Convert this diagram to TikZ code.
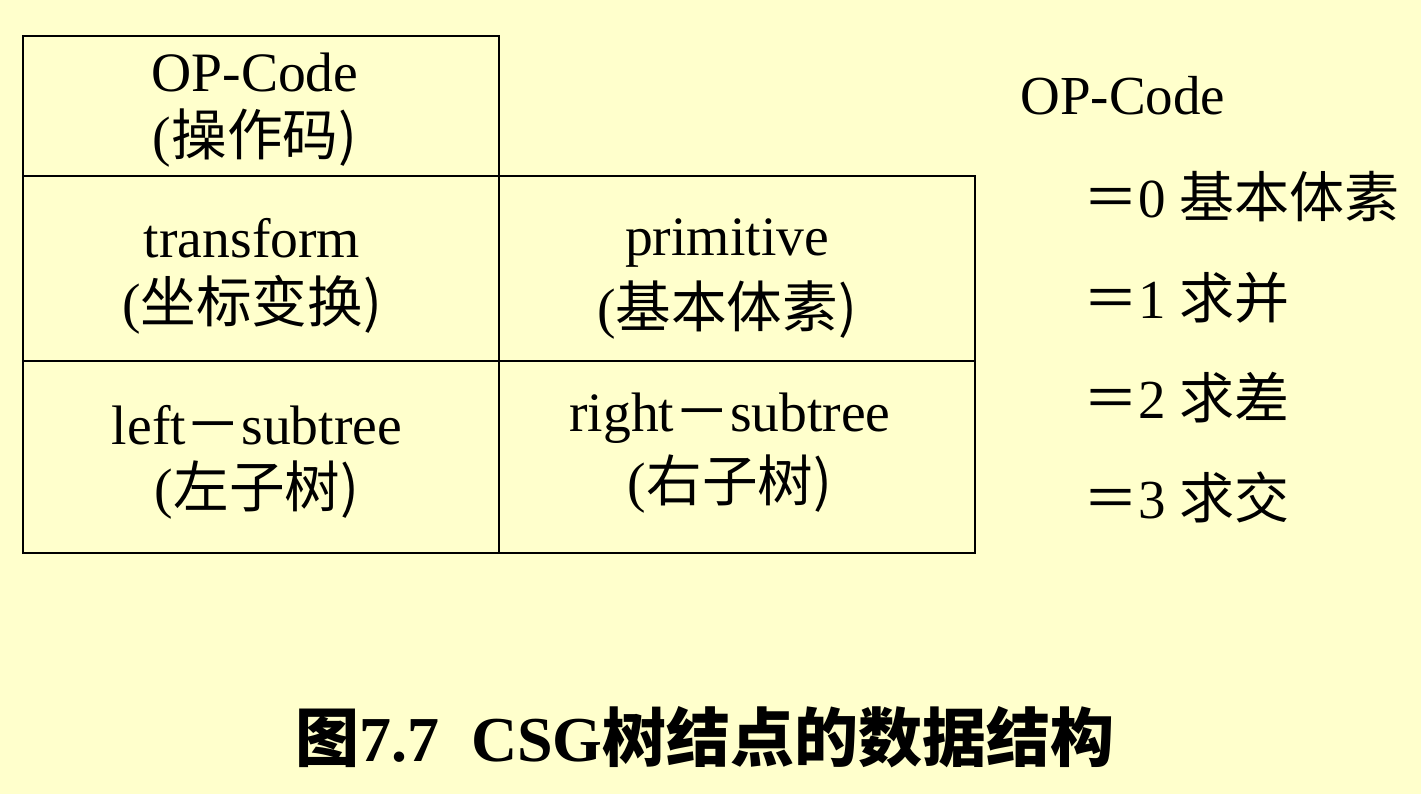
\documentclass[tikz,border=0pt]{standalone}
\usepackage{fontspec}
\setmainfont{Liberation Serif}
\newfontfamily\cjk{Noto Sans CJK SC}
\definecolor{bgyellow}{HTML}{FFFFCC}
\tikzset{
  cell/.style={draw=black, line width=1pt},
  txt/.style={font=\fontsize{27.8}{32}\selectfont, inner sep=0pt, align=center},
  leg/.style={font=\fontsize{27.5}{32}\selectfont, inner sep=0pt, anchor=west},
  captxt/.style={font=\fontsize{32}{38}\selectfont\bfseries, inner sep=0pt}
}
\begin{document}
\begin{tikzpicture}[x=0.5pt,y=-0.5pt]
\fill[bgyellow] (0,0) rectangle (1421,794);
\useasboundingbox (0,0) rectangle (1421,794);
% table
\draw[cell] (23,36) rectangle (499,176);
\draw[cell] (23,176) rectangle (499,361);
\draw[cell] (499,176) rectangle (975,361);
\draw[cell] (23,361) rectangle (499,553);
\draw[cell] (499,361) rectangle (975,553);
% cell texts
\node[txt] (op1) at (255,72) {OP-Code};
\node[txt] (op2) at (255,138) {(\cjk 操作码)};
\node[txt] (tr1) at (252,238) {transform};
\node[txt] (tr2) at (252,305) {(\cjk 坐标变换)};
\node[txt] (pr1) at (727,243) {primitive};
\node[txt] (pr2) at (727,310) {(\cjk 基本体素)};
\node[txt] (lt1) at (257,425) {left{\cjk －}subtree};
\node[txt] (lt2) at (257,490) {(\cjk 左子树)};
\node[txt] (rt1) at (730,418) {right{\cjk －}subtree};
\node[txt] (rt2) at (730,484) {(\cjk 右子树)};
% legend
\node[leg] (lg) at (1020,96) {OP-Code};
\node[leg] (l0) at (1083,197) {{\cjk ＝}0 {\cjk 基本体素}};
\node[leg] (l1) at (1083,298) {{\cjk ＝}1 {\cjk 求并}};
\node[leg] (l2) at (1083,398) {{\cjk ＝}2 {\cjk 求差}};
\node[leg] (l3) at (1083,497) {{\cjk ＝}3 {\cjk 求交}};
% caption
\node[captxt] (caption) at (705,737) {{\cjk 图}7.7\ \ CSG{\cjk 树结点的数据结构}};
\end{tikzpicture}
\end{document}
